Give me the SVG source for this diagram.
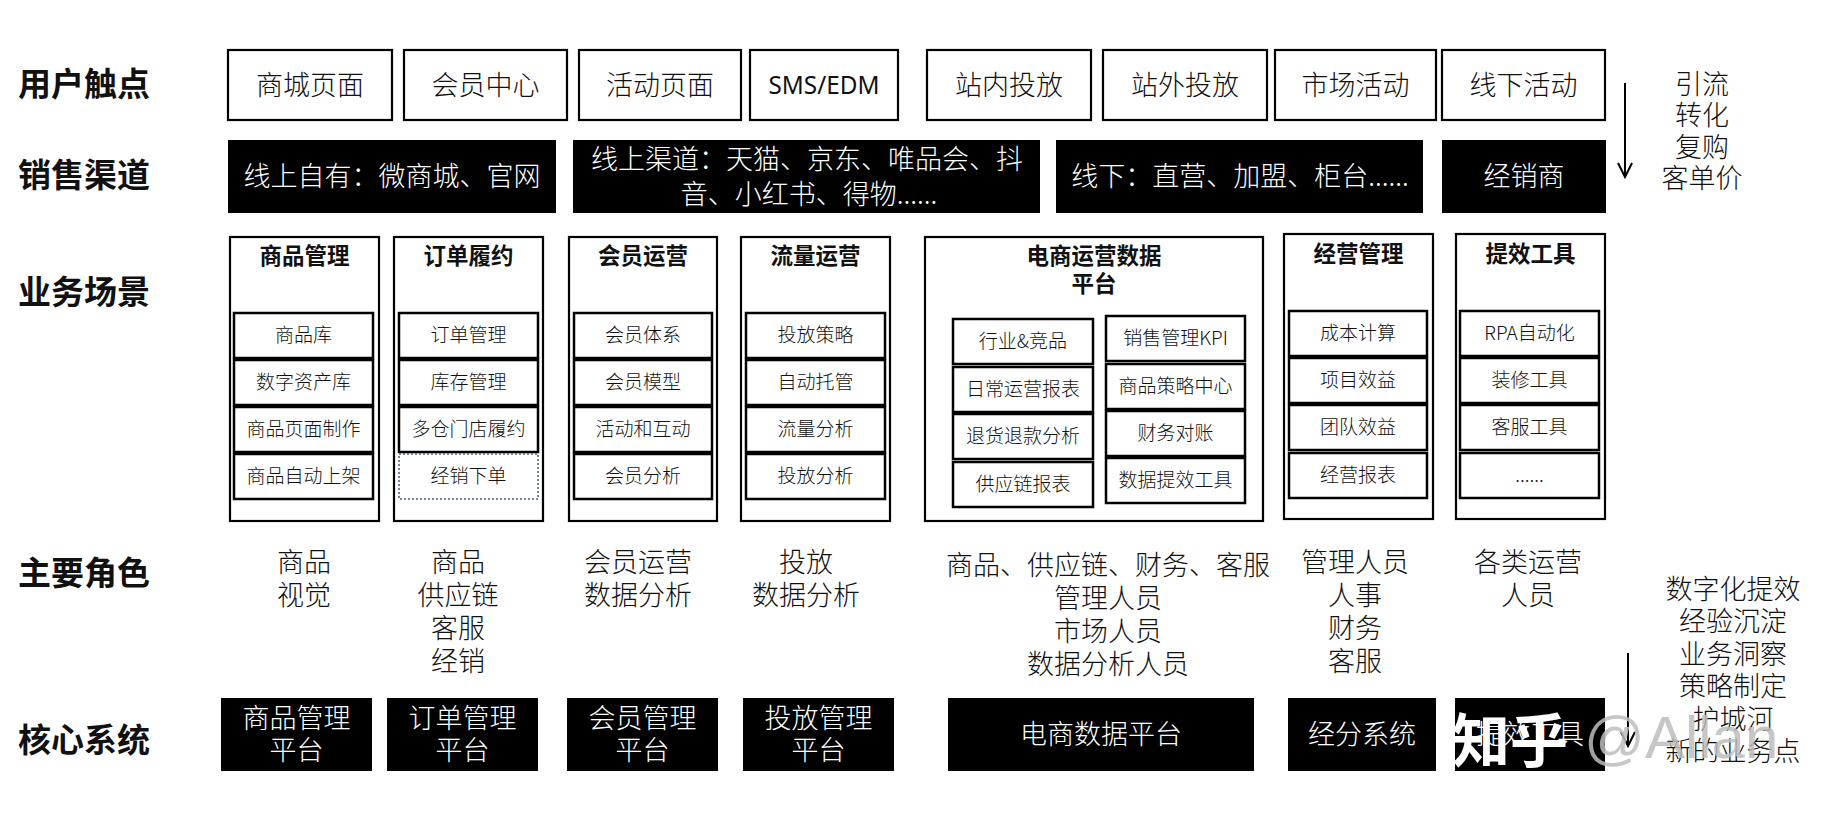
<svg xmlns="http://www.w3.org/2000/svg" width="1824" height="814" viewBox="0 0 1824 814">
<style>
text{font-family:"Noto Sans CJK SC","Noto Sans",sans-serif;dominant-baseline:central;text-anchor:middle;fill:#111;font-weight:300}
.lab{font-size:33px;font-weight:bold;text-anchor:start}
.t1{font-size:27px}
.w{fill:#fff}
.bx{fill:#fff;stroke:#000;stroke-width:2.2}
.ib{fill:#fff;stroke:#000;stroke-width:2.5}
.dk{fill:#000}
.ti{font-size:22.5px;font-weight:bold}
.it{font-size:19px}
.r{font-size:27px}
.ln{stroke:#000;stroke-width:2;fill:none}
</style>
<g id="labels">
<text class="lab" x="18" y="82">用户触点</text>
<text class="lab" x="18" y="173">销售渠道</text>
<text class="lab" x="18" y="290">业务场景</text>
<text class="lab" x="18" y="571">主要角色</text>
<text class="lab" x="18" y="738">核心系统</text>
</g>
<g id="touchpoints">
<rect class="bx" x="228" y="50" width="164" height="70"/><text class="t1" x="310" y="83">商城页面</text>
<rect class="bx" x="404" y="50" width="163" height="70"/><text class="t1" x="485.5" y="83">会员中心</text>
<rect class="bx" x="579" y="50" width="162" height="70"/><text class="t1" x="660" y="83">活动页面</text>
<rect class="bx" x="750" y="50" width="148" height="70"/><text class="t1" x="824" y="84" style="font-family:'Noto Sans',sans-serif;font-size:25px;font-weight:normal" textLength="111" lengthAdjust="spacingAndGlyphs">SMS/EDM</text>
<rect class="bx" x="927" y="50" width="164" height="70"/><text class="t1" x="1009" y="83">站内投放</text>
<rect class="bx" x="1103" y="50" width="164" height="70"/><text class="t1" x="1185" y="83">站外投放</text>
<rect class="bx" x="1275" y="50" width="161" height="70"/><text class="t1" x="1355.5" y="83">市场活动</text>
<rect class="bx" x="1442" y="50" width="163" height="70"/><text class="t1" x="1523.5" y="83">线下活动</text>
</g>
<g id="channels">
<rect class="dk" x="228" y="140" width="328" height="73"/><text class="t1 w" x="392" y="174">线上自有：微商城、官网</text>
<rect class="dk" x="573" y="140" width="467" height="73"/><text class="t1 w" x="807" y="157">线上渠道：天猫、京东、唯品会、抖</text><text class="t1 w" x="809" y="192">音、小红书、得物......</text>
<rect class="dk" x="1056" y="140" width="367" height="73"/><text class="t1 w" x="1240" y="174">线下：直营、加盟、柜台......</text>
<rect class="dk" x="1442" y="140" width="164" height="73"/><text class="t1 w" x="1524" y="174">经销商</text>
</g>
<g id="col1">
<rect class="bx" x="230" y="237" width="149" height="284"/><text class="ti" x="304.5" y="254">商品管理</text>
<rect class="ib" x="234" y="313" width="139" height="45"/><text class="it" x="303.5" y="333.5">商品库</text>
<rect class="ib" x="234" y="360" width="139" height="45"/><text class="it" x="303.5" y="380.5">数字资产库</text>
<rect class="ib" x="234" y="407" width="139" height="45"/><text class="it" x="303.5" y="427.5">商品页面制作</text>
<rect class="ib" x="234" y="454" width="139" height="45"/><text class="it" x="303.5" y="474.5">商品自动上架</text>
</g>
<g id="col2">
<rect class="bx" x="394" y="237" width="149" height="284"/><text class="ti" x="468.5" y="254">订单履约</text>
<rect class="ib" x="399" y="313" width="139" height="45"/><text class="it" x="468.5" y="333.5">订单管理</text>
<rect class="ib" x="399" y="360" width="139" height="45"/><text class="it" x="468.5" y="380.5">库存管理</text>
<rect class="ib" x="399" y="407" width="139" height="45"/><text class="it" x="468.5" y="427.5">多仓门店履约</text>
<rect x="399" y="454" width="139" height="45" fill="#fff" stroke="#4f6475" stroke-width="1.6" stroke-dasharray="2 2"/><text class="it" x="468.5" y="474.5">经销下单</text>
</g>
<g id="col3">
<rect class="bx" x="569" y="237" width="148" height="284"/><text class="ti" x="643" y="254">会员运营</text>
<rect class="ib" x="574" y="313" width="138" height="45"/><text class="it" x="643" y="333.5">会员体系</text>
<rect class="ib" x="574" y="360" width="138" height="45"/><text class="it" x="643" y="380.5">会员模型</text>
<rect class="ib" x="574" y="407" width="138" height="45"/><text class="it" x="643" y="427.5">活动和互动</text>
<rect class="ib" x="574" y="454" width="138" height="45"/><text class="it" x="643" y="474.5">会员分析</text>
</g>
<g id="col4">
<rect class="bx" x="741" y="237" width="149" height="284"/><text class="ti" x="815.5" y="254">流量运营</text>
<rect class="ib" x="746" y="313" width="139" height="45"/><text class="it" x="815.5" y="333.5">投放策略</text>
<rect class="ib" x="746" y="360" width="139" height="45"/><text class="it" x="815.5" y="380.5">自动托管</text>
<rect class="ib" x="746" y="407" width="139" height="45"/><text class="it" x="815.5" y="427.5">流量分析</text>
<rect class="ib" x="746" y="454" width="139" height="45"/><text class="it" x="815.5" y="474.5">投放分析</text>
</g>
<g id="col5">
<rect class="bx" x="925" y="237" width="338" height="284"/><text class="ti" x="1094" y="254">电商运营数据</text><text class="ti" x="1094" y="282">平台</text>
<rect class="ib" x="953" y="319" width="140" height="45"/><text class="it" x="1023" y="339.5">行业&amp;竞品</text>
<rect class="ib" x="953" y="367" width="140" height="45"/><text class="it" x="1023" y="387.5">日常运营报表</text>
<rect class="ib" x="953" y="414" width="140" height="45"/><text class="it" x="1023" y="434.5">退货退款分析</text>
<rect class="ib" x="953" y="462" width="140" height="45"/><text class="it" x="1023" y="482.5">供应链报表</text>
<rect class="ib" x="1106" y="316" width="139" height="45"/><text class="it" x="1175.5" y="336.5">销售管理KPI</text>
<rect class="ib" x="1106" y="364" width="139" height="45"/><text class="it" x="1175.5" y="384.5">商品策略中心</text>
<rect class="ib" x="1106" y="411" width="139" height="45"/><text class="it" x="1175.5" y="431.5">财务对账</text>
<rect class="ib" x="1106" y="458" width="139" height="45"/><text class="it" x="1175.5" y="478.5">数据提效工具</text>
</g>
<g id="col6">
<rect class="bx" x="1284" y="234" width="149" height="285"/><text class="ti" x="1358.5" y="252">经营管理</text>
<rect class="ib" x="1289" y="311" width="138" height="45"/><text class="it" x="1358" y="331.5">成本计算</text>
<rect class="ib" x="1289" y="358" width="138" height="45"/><text class="it" x="1358" y="378.5">项目效益</text>
<rect class="ib" x="1289" y="405" width="138" height="45"/><text class="it" x="1358" y="425.5">团队效益</text>
<rect class="ib" x="1289" y="453" width="138" height="45"/><text class="it" x="1358" y="473.5">经营报表</text>
</g>
<g id="col7">
<rect class="bx" x="1456" y="234" width="149" height="285"/><text class="ti" x="1530.5" y="252">提效工具</text>
<rect class="ib" x="1460" y="311" width="139" height="45"/><text class="it" x="1529.5" y="331.5">RPA自动化</text>
<rect class="ib" x="1460" y="358" width="139" height="45"/><text class="it" x="1529.5" y="378.5">装修工具</text>
<rect class="ib" x="1460" y="405" width="139" height="45"/><text class="it" x="1529.5" y="425.5">客服工具</text>
<rect class="ib" x="1460" y="453" width="139" height="45"/><text class="it" x="1529.5" y="473.5">......</text>
</g>
<g id="roles">
<text class="r" x="304" y="560">商品</text><text class="r" x="304" y="593">视觉</text>
<text class="r" x="458" y="560">商品</text><text class="r" x="458" y="593">供应链</text><text class="r" x="458" y="626">客服</text><text class="r" x="458" y="659">经销</text>
<text class="r" x="638" y="560">会员运营</text><text class="r" x="638" y="593">数据分析</text>
<text class="r" x="806" y="560">投放</text><text class="r" x="806" y="593">数据分析</text>
<text class="r" x="1108" y="563">商品、供应链、财务、客服</text><text class="r" x="1108" y="596">管理人员</text><text class="r" x="1108" y="629">市场人员</text><text class="r" x="1108" y="662">数据分析人员</text>
<text class="r" x="1355" y="560">管理人员</text><text class="r" x="1355" y="593">人事</text><text class="r" x="1355" y="626">财务</text><text class="r" x="1355" y="659">客服</text>
<text class="r" x="1528" y="560">各类运营</text><text class="r" x="1528" y="593">人员</text>
</g>
<g id="systems">
<rect class="dk" x="221" y="698" width="151" height="73"/><text class="r w" x="296.5" y="716">商品管理</text><text class="r w" x="296.5" y="748">平台</text>
<rect class="dk" x="387" y="698" width="151" height="73"/><text class="r w" x="462.5" y="716">订单管理</text><text class="r w" x="462.5" y="748">平台</text>
<rect class="dk" x="567" y="698" width="151" height="73"/><text class="r w" x="642.5" y="716">会员管理</text><text class="r w" x="642.5" y="748">平台</text>
<rect class="dk" x="743" y="698" width="151" height="73"/><text class="r w" x="818.5" y="716">投放管理</text><text class="r w" x="818.5" y="748">平台</text>
<rect class="dk" x="948" y="698" width="306" height="73"/><text class="r w" x="1101" y="732">电商数据平台</text>
<rect class="dk" x="1288" y="698" width="148" height="73"/><text class="r w" x="1362" y="732">经分系统</text>
<rect class="dk" x="1455" y="698" width="150" height="73"/><text class="r w" x="1530" y="732">提效工具</text>
</g>
<g id="effects">
<text class="r" x="1702" y="82">引流</text><text class="r" x="1702" y="113">转化</text><text class="r" x="1702" y="145">复购</text><text class="r" x="1702" y="176">客单价</text>
<text class="r" x="1733" y="587">数字化提效</text><text class="r" x="1733" y="619">经验沉淀</text><text class="r" x="1733" y="652">业务洞察</text><text class="r" x="1733" y="684">策略制定</text><text class="r" x="1733" y="717">护城河</text><text class="r" x="1733" y="749">新的业务点</text>
</g>
<g id="connectors">
<path class="ln" d="M1625 83V177M1618 163L1625 177L1632 163"/>
<path class="ln" d="M1628 653V746M1621 732L1628 746L1635 732"/>
</g>
<g id="watermark">
<text x="1452" y="737" style="font-size:58px;font-weight:bold;text-anchor:start;fill:#fff">知乎</text>
<text x="1584" y="737" style="font-family:'Liberation Sans',sans-serif;font-size:60px;font-weight:normal;text-anchor:start;fill:#bdbdbd;fill-opacity:0.85">@Allan</text>
</g>
</svg>
